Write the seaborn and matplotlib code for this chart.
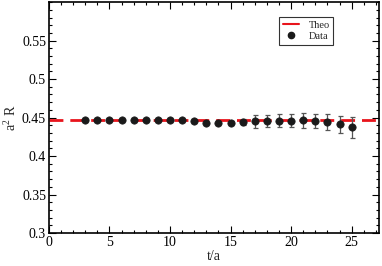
import matplotlib
matplotlib.use("Agg")
import matplotlib.pyplot as plt
from matplotlib.ticker import MultipleLocator
from matplotlib.lines import Line2D
import seaborn as sns
import pandas as pd

# data
t_vals = list(range(3, 26))
r_vals = [0.4468, 0.4468, 0.4468, 0.4468, 0.4468, 0.4468, 0.4468, 0.4468, 0.4468,
          0.4458, 0.4433, 0.4430, 0.4430, 0.4440, 0.4452, 0.4452, 0.4458, 0.4460,
          0.4462, 0.4455, 0.4448, 0.4410, 0.4375]
r_errs = [0.0008, 0.0008, 0.0008, 0.0008, 0.0008, 0.0008, 0.0008, 0.0008, 0.0008,
          0.0008, 0.0012, 0.0015, 0.0020, 0.0035, 0.0085, 0.0078, 0.0082, 0.0088,
          0.0095, 0.0094, 0.0103, 0.0115, 0.0138]
theo = 0.447

df = pd.DataFrame({"t": t_vals, "R": r_vals, "err": r_errs})

sns.set_theme(style="ticks")
plt.rcParams["font.family"] = ["Liberation Serif", "DejaVu Serif"]
plt.rcParams["mathtext.fontset"] = "custom"
plt.rcParams["mathtext.rm"] = "Liberation Serif"

fig = plt.figure(figsize=(3.82, 2.66), dpi=100)
ax = fig.add_axes([0.128, 0.124, 0.864, 0.868])

ax.axhline(theo, color="#e8141c", lw=2, dashes=(5, 2.5), zorder=1)
ax.errorbar(df["t"], df["R"], yerr=df["err"], fmt="none", ecolor="#555555",
            elinewidth=0.9, capsize=1.8, capthick=0.9, zorder=2)
sns.scatterplot(data=df, x="t", y="R", ax=ax, color="#1a1a1a", s=28,
                edgecolor="#1a1a1a", linewidth=0.5, zorder=3, legend=False)

ax.set_xlim(0, 27.25)
ax.set_ylim(0.3, 0.6)
ax.xaxis.set_major_locator(MultipleLocator(5))
ax.xaxis.set_minor_locator(MultipleLocator(1))
ax.yaxis.set_minor_locator(MultipleLocator(0.01))
ax.set_yticks([0.3, 0.35, 0.4, 0.45, 0.5, 0.55])
ax.set_yticklabels(["0.3", "0.35", "0.4", "0.45", "0.5", "0.55"])
ax.tick_params(which="both", direction="in", top=True, right=True,
               labelsize=10, colors="black", pad=2)
ax.tick_params(which="major", length=5, width=0.8)
ax.tick_params(which="minor", length=2.5, width=0.8)
for s in ax.spines.values():
    s.set_linewidth(1.2)
    s.set_color("black")

ax.set_xlabel("t/a", fontsize=10, labelpad=1)
ax.set_ylabel(r"a$^{2}$ R", fontsize=10, labelpad=2)

# legend
handles = [Line2D([], [], color="#e8141c", lw=1.5),
           Line2D([], [], marker="o", color="#1a1a1a", ls="none", markersize=4.5)]
leg = ax.legend(handles, ["Theo", "Data"], loc="upper left",
                bbox_to_anchor=(0.697, 0.935), borderaxespad=0, fontsize=7.5,
                frameon=True, fancybox=False, handlelength=1.6, borderpad=0.35,
                labelspacing=0.15, handletextpad=0.9)
leg.get_frame().set_edgecolor("black")
leg.get_frame().set_linewidth(0.8)

fig.savefig("out.png", dpi=100)
